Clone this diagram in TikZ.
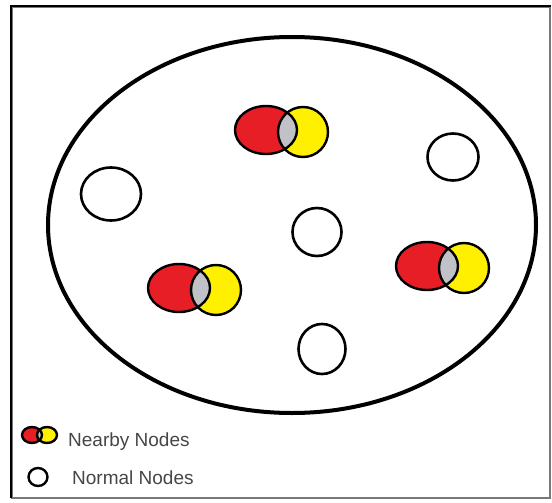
\documentclass[tikz,border=0pt]{standalone}
\usepackage{fontspec}
\setmainfont{Liberation Sans}
\usetikzlibrary{shapes.geometric}
\definecolor{nodered}{RGB}{232,30,38}
\definecolor{nodeyellow}{RGB}{255,240,0}
\definecolor{lensgray}{RGB}{192,194,200}
\definecolor{labelgray}{RGB}{70,70,70}
\definecolor{framegray}{RGB}{120,120,120}
\tikzset{
  outline/.style={draw=black, line width=2.4pt},
  normalnode/.style={ellipse, draw=black, line width=2.6pt, fill=white, inner sep=0pt},
  legendtext/.style={anchor=base west, text=labelgray, font=\fontsize{19}{23}\selectfont, inner sep=0pt},
  nearby/.pic={
    \fill[nodered] (0,0) ellipse [x radius=31, y radius=24];
    \fill[nodeyellow] (37,2) ellipse [x radius=25, y radius=25];
    \begin{scope}
      \clip (0,0) ellipse [x radius=31, y radius=24];
      \fill[lensgray] (37,2) ellipse [x radius=25, y radius=25];
    \end{scope}
    \draw[outline] (0,0) ellipse [x radius=31, y radius=24];
    \draw[outline] (37,2) ellipse [x radius=25, y radius=25];
  }
}
\begin{document}
\begin{tikzpicture}[x=1pt, y=-1pt]
  \useasboundingbox (0,0) rectangle (552,503);
  % page frame
  \draw[framegray, line width=2pt] (12,7) rectangle (550,498);
  \draw[black, line width=1.5pt] (11,498) -- (11,6) -- (551,6);
  % network area
  \draw[black, line width=4pt] (292,225) ellipse [x radius=244, y radius=188];
  % ordinary nodes
  \node[normalnode, minimum width=60pt, minimum height=53pt] (n1) at (111,194) {};
  \node[normalnode, minimum width=51pt, minimum height=47pt] (n2) at (453,157) {};
  \node[normalnode, minimum width=49pt, minimum height=48pt] (n3) at (317,232) {};
  \node[normalnode, minimum width=47pt, minimum height=50pt] (n4) at (322,349) {};
  % overlapping node pairs
  \pic (p1) at (266,130) {nearby};
  \pic (p2) at (427,266) {nearby};
  \pic (p3) at (179,288) {nearby};
  % legend
  \fill[nodered] (32,435) ellipse [x radius=10, y radius=8];
  \fill[nodeyellow] (47,435) ellipse [x radius=10, y radius=8];
  \begin{scope}
    \clip (32,435) ellipse [x radius=10, y radius=8];
    \fill[lensgray] (47,435) ellipse [x radius=10, y radius=8];
  \end{scope}
  \draw[black, line width=2.4pt] (32,435) ellipse [x radius=10, y radius=8];
  \draw[black, line width=2.4pt] (47,435) ellipse [x radius=10, y radius=8];
  \node[normalnode, line width=2.4pt, minimum width=19pt, minimum height=18pt] (legnormal) at (38,477) {};
  \node[legendtext] (legnear) at (68,446) {Nearby Nodes};
  \node[legendtext] (legnorm) at (72,484) {Normal Nodes};
\end{tikzpicture}
\end{document}
